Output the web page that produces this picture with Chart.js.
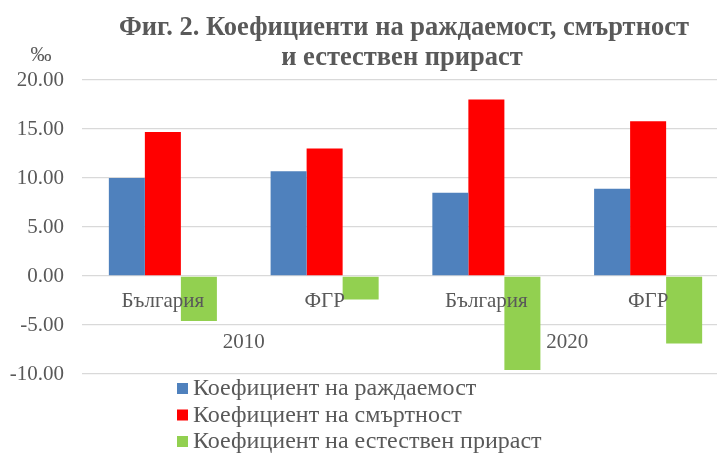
<!DOCTYPE html>
<html>
<head>
<meta charset="utf-8">
<script src="https://cdn.jsdelivr.net/npm/chart.js@4"></script>
<style>
  html, body { margin: 0; padding: 0; background: #fff; overflow: hidden; }
  #wrap { width: 717px; height: 457px; overflow: hidden; }
</style>
</head>
<body>
<div id="wrap"><canvas id="ratesChart" width="729" height="457"></canvas></div>
<script>
// data (‰)
const countries = ["България", "ФГР", "България", "ФГР"];
const years = ["2010", "2020"];
const birthRate = [10.0, 10.7, 8.5, 8.9];
const deathRate = [14.7, 13.0, 18.0, 15.8];
const naturalIncrease = [-4.6, -2.4, -9.6, -6.9];
const seriesNames = [
  "Коефициент на раждаемост",
  "Коефициент на смъртност",
  "Коефициент на естествен прираст",
];
const titleLines = ["Фиг. 2. Коефициенти на раждаемост, смъртност", "и естествен прираст"];
const unitLabel = "‰";

const textColor = "#595959";
const gridColor = "#D9D9D9";
const serif = "'Liberation Serif', 'Times New Roman', serif";

// title, unit and the vertical legend list
const extrasPlugin = {
  id: "extras",
  afterDraw(chart) {
    const ctx = chart.ctx;
    ctx.save();
    ctx.fillStyle = textColor;
    ctx.textAlign = "center";
    ctx.textBaseline = "alphabetic";
    ctx.font = "bold 26.5px " + serif;
    ctx.fillText(titleLines[0], 404, 35);
    ctx.fillText(titleLines[1], 402, 65);

    ctx.font = "21px " + serif;
    ctx.fillText(unitLabel, 41, 61);

    ctx.textAlign = "left";
    ctx.textBaseline = "middle";
    ctx.font = "24px " + serif;
    chart.data.datasets.forEach((ds, i) => {
      const y = 388 + i * 26.5;
      ctx.fillStyle = ds.backgroundColor;
      ctx.fillRect(177, y - 5, 11, 11);
      ctx.fillStyle = textColor;
      ctx.fillText(ds.label, 193, y + 1);
    });
    ctx.restore();
  },
};

const ctx = document.getElementById("ratesChart").getContext("2d");
new Chart(ctx, {
  type: "bar",
  data: {
    labels: countries,
    datasets: [
      { label: seriesNames[0], data: birthRate, backgroundColor: "#4F81BD" },
      { label: seriesNames[1], data: deathRate, backgroundColor: "#FF0000" },
      { label: seriesNames[2], data: naturalIncrease, backgroundColor: "#92D050" },
    ],
  },
  options: {
    responsive: false,
    animation: false,
    layout: { padding: { top: 80, bottom: 83, left: 0, right: 0 } },
    datasets: {
      bar: { categoryPercentage: 0.668, barPercentage: 1.0, borderWidth: 0 },
    },
    plugins: {
      legend: { display: false },
      title: { display: false },
      tooltip: { enabled: false },
    },
    scales: {
      y: {
        min: -10,
        max: 20,
        ticks: {
          stepSize: 5,
          padding: 18,
          color: textColor,
          font: { family: serif, size: 21 },
          callback: (v) => v.toFixed(2),
        },
        grid: { color: gridColor, lineWidth: 1.3, drawTicks: false },
        border: { display: false },
        afterFit: (scale) => {
          scale.width = 82;
        },
      },
      x: {
        position: { y: 0 },
        grid: { display: false, drawTicks: false },
        border: { display: false },
        ticks: {
          z: 1, // labels sit on top of the bars
          padding: 13,
          color: textColor,
          font: { family: serif, size: 21 },
          maxRotation: 0,
          autoSkip: false,
        },
      },
      x2: {
        axis: "x",
        type: "category",
        labels: years,
        offset: true,
        position: { y: 0 },
        grid: { display: false, drawTicks: false },
        border: { display: false },
        ticks: {
          z: 1,
          padding: 54,
          color: textColor,
          font: { family: serif, size: 21 },
          maxRotation: 0,
        },
      },
    },
  },
  plugins: [extrasPlugin],
});
</script>
</body>
</html>
